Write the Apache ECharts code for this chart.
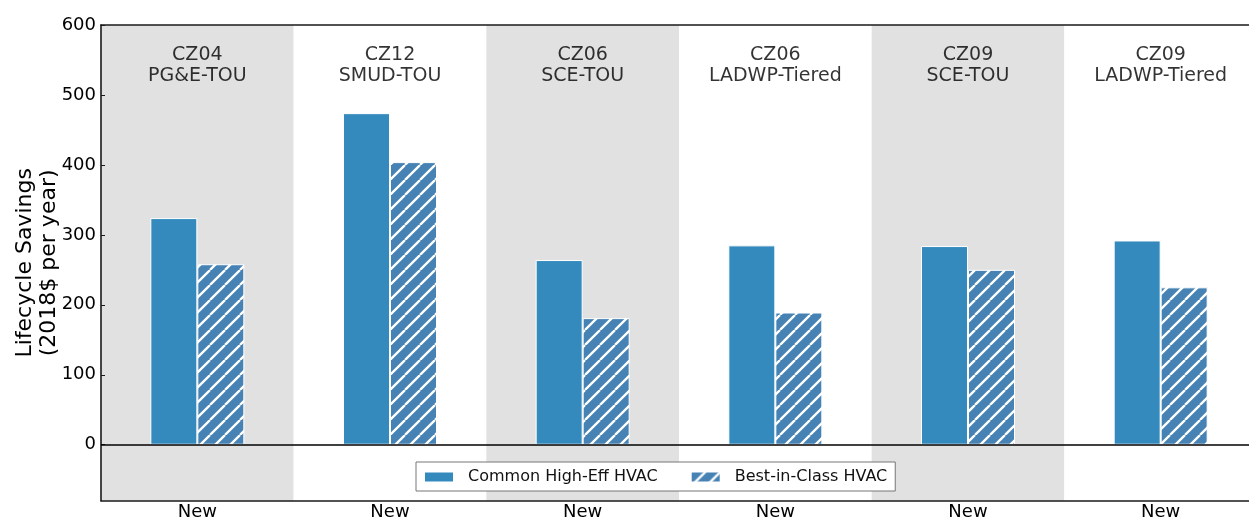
<!DOCTYPE html>
<html>
<head>
<meta charset="utf-8">
<script src="https://cdn.jsdelivr.net/npm/echarts@6/dist/echarts.min.js"></script>
<style>
  html, body { margin: 0; padding: 0; background: #fff; }
  #chart { width: 1249px; height: 520px; }
</style>
</head>
<body>
<div id="chart"></div>
<script>
// ---- data ----
const panelZones = ['CZ04', 'CZ12', 'CZ06', 'CZ06', 'CZ09', 'CZ09'];
const panelTariffs = ['PG&E-TOU', 'SMUD-TOU', 'SCE-TOU', 'LADWP-Tiered', 'SCE-TOU', 'LADWP-Tiered'];
const xTickLabels = ['New', 'New', 'New', 'New', 'New', 'New'];
const seriesNames = ['Common High-Eff HVAC', 'Best-in-Class HVAC'];
const commonHighEff = [324, 474, 264, 285, 284, 292];
const bestInClass = [258, 404, 181, 189, 250, 225];
const yTickValues = [0, 100, 200, 300, 400, 500, 600];
const yAxisTitle = 'Lifecycle Savings\n(2018$ per year)';
const titleAnchorValue = 542;

const categories = panelZones.map((z, i) => z + ' ' + panelTariffs[i] + ' #' + i);

function hatchPattern(bg, period, lw) {
  const c = document.createElement('canvas');
  c.width = period; c.height = period;
  const ctx = c.getContext('2d');
  ctx.fillStyle = bg;
  ctx.fillRect(0, 0, period, period);
  ctx.strokeStyle = '#ffffff';
  ctx.lineWidth = lw;
  ctx.beginPath();
  for (let k = -1; k <= 1; k++) {
    ctx.moveTo(k * period, period);
    ctx.lineTo(k * period + period, 0);
  }
  ctx.stroke();
  return c;
}

const font = 'DejaVu Sans';
const chart = echarts.init(document.getElementById('chart'), null, { renderer: 'canvas' });

const option = {
  animation: false,
  backgroundColor: '#ffffff',
  textStyle: { fontFamily: font },
  grid: { left: 101, top: 25, width: 1156, height: 475.7, containLabel: false, outerBoundsMode: 'none' },
  legend: {
    data: seriesNames,
    left: 416, top: 462,
    orient: 'horizontal',
    icon: 'rect',
    padding: [7, 8, 6, 7],
    itemGap: 32,
    itemWidth: 30,
    itemHeight: 11,
    backgroundColor: '#ffffff',
    borderColor: '#777777',
    borderWidth: 1,
    borderRadius: 0,
    textStyle: { fontFamily: font, fontSize: 16, color: '#111', padding: [0, 0, 0, 9] }
  },
  xAxis: [{
    type: 'category',
    data: categories,
    position: 'bottom',
    boundaryGap: true,
    axisLine: { show: true, onZero: false, lineStyle: { color: '#1a1a1a', width: 1.6 } },
    axisTick: { show: false },
    axisLabel: {
      fontFamily: font, fontSize: 18, color: '#000', margin: 3,
      formatter: (v, i) => xTickLabels[i]
    },
    splitLine: { show: false },
    splitArea: { show: true, areaStyle: { color: ['#e1e1e1', '#ffffff'] } }
  }, {
    type: 'category',
    data: categories,
    position: 'top',
    axisLine: { show: true, onZero: false, lineStyle: { color: '#1a1a1a', width: 1.6 } },
    axisTick: { show: false },
    axisLabel: { show: false },
    splitLine: { show: false },
    splitArea: { show: false }
  }],
  yAxis: {
    type: 'value',
    min: -80, max: 600,
    splitNumber: 7,
    name: yAxisTitle,
    nameLocation: 'middle',
    nameGap: 40,
    nameMoveOverlap: false,
    nameRotate: 90,
    nameTextStyle: { fontFamily: font, fontSize: 22, color: '#000', lineHeight: 24 },
    axisLine: { show: true, lineStyle: { color: '#1a1a1a', width: 1.6 } },
    axisTick: { show: true, inside: true, length: 4, customValues: yTickValues, lineStyle: { color: '#1a1a1a', width: 1 } },
    axisLabel: { fontFamily: font, fontSize: 18, color: '#000', margin: 5, customValues: yTickValues },
    splitLine: { show: false }
  },
  series: [{
    name: seriesNames[0],
    type: 'bar',
    data: commonHighEff,
    barWidth: 47,
    barGap: '0%',
    itemStyle: { color: '#348abd', borderColor: '#ffffff', borderWidth: 1 },
    markLine: {
      silent: true,
      symbol: 'none',
      label: { show: false },
      lineStyle: { color: '#000', width: 1.6, type: 'solid' },
      data: [{ yAxis: 0 }]
    },
    z: 3
  }, {
    name: seriesNames[1],
    type: 'bar',
    data: bestInClass,
    barWidth: 47,
    barGap: '0%',
    itemStyle: {
      color: { image: hatchPattern('#4682b4', 15, 2.3), repeat: 'repeat' },
      borderColor: '#ffffff', borderWidth: 1
    },
    z: 3
  }, {
    name: 'titles',
    type: 'scatter',
    symbolSize: 0,
    silent: true,
    data: categories.map((c) => [c, titleAnchorValue]),
    label: {
      show: true,
      position: 'inside',
      fontFamily: font, fontSize: 19, color: '#000', lineHeight: 21, align: 'center',
      formatter: (p) => panelZones[p.dataIndex] + '\n' + panelTariffs[p.dataIndex]
    },
    z: 4
  }]
};

chart.setOption(option);
</script>
</body>
</html>
